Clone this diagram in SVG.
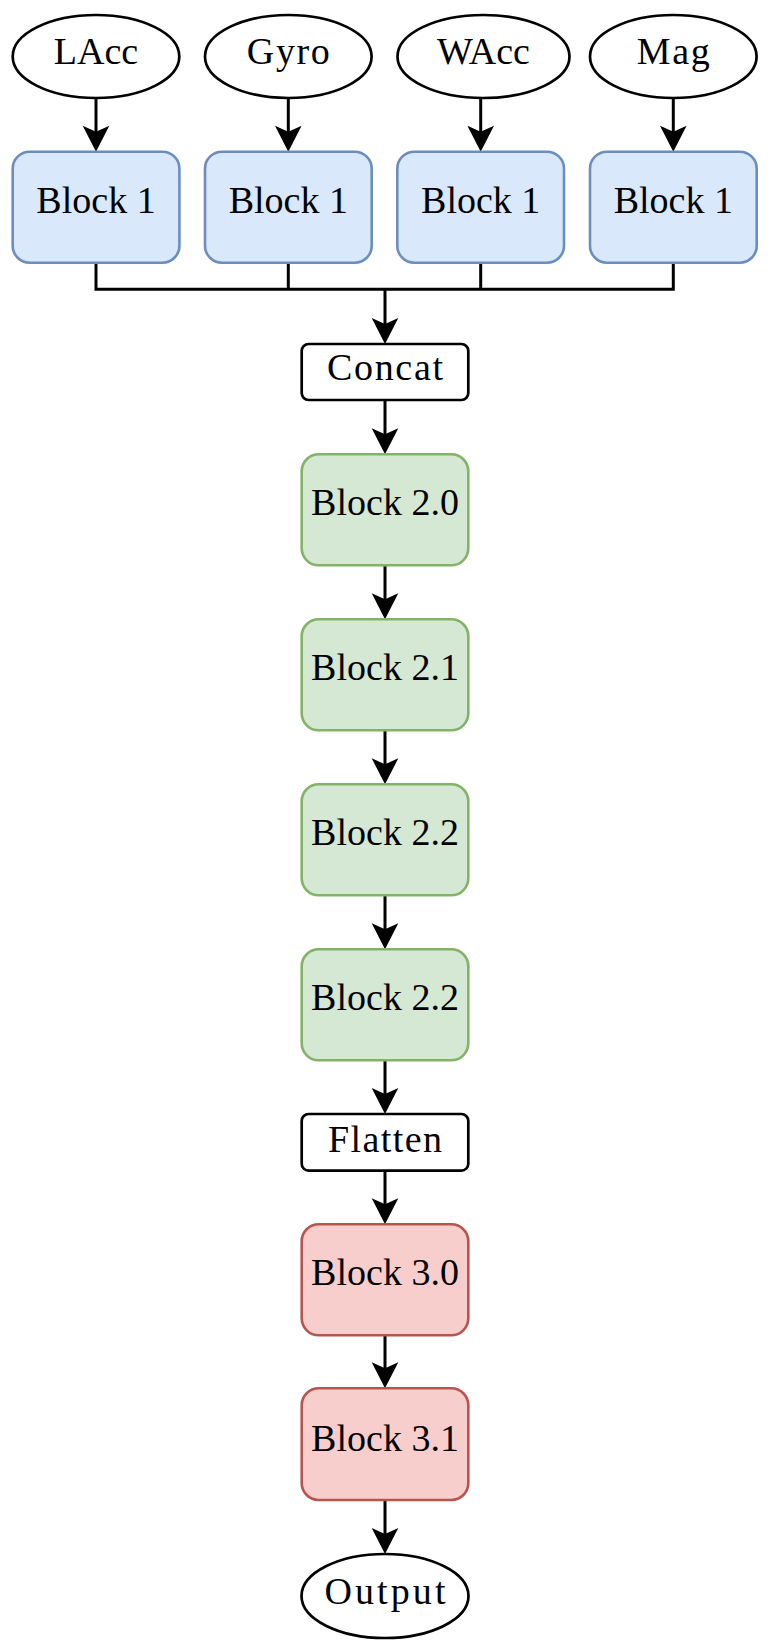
<svg xmlns="http://www.w3.org/2000/svg" width="775" height="1651" viewBox="0 0 775 1651">
<style>
.t{font-family:"Liberation Serif","Times New Roman",serif;font-size:38px;fill:#000;text-anchor:middle}
.ell{fill:#fff;stroke:#000;stroke-width:2.7}
.plain{fill:#fff;stroke:#000;stroke-width:2.7}
.blue{fill:#dae8fc;stroke:#6c8ebf;stroke-width:2.6}
.green{fill:#d5e8d4;stroke:#82b366;stroke-width:2.6}
.red{fill:#f8cecc;stroke:#b85450;stroke-width:2.6}
.c{fill:none;stroke:#000;stroke-width:3}
.a{fill:none;stroke:#000;stroke-width:3;marker-end:url(#ah)}
</style>
<defs>
<marker id="ah" markerUnits="userSpaceOnUse" orient="auto" viewBox="-27 -14 28 28" refX="-12" refY="0" markerWidth="28" markerHeight="28">
<path d="M0,0 L-26,-13.3 L-20,0 L-26,13.3 Z" fill="#000"/>
</marker>
</defs>
<rect width="775" height="1651" fill="#fff"/>
<g id="connectors">
<line class="a" x1="96" y1="98" x2="96" y2="139.7"/>
<line class="a" x1="288.3" y1="98" x2="288.3" y2="139.7"/>
<line class="a" x1="480.7" y1="98" x2="480.7" y2="139.7"/>
<line class="a" x1="673.3" y1="98" x2="673.3" y2="139.7"/>
<path class="c" d="M96,262.7 V289.3 H673.3 V262.7 M288.3,262.7 V289.3 M480.7,262.7 V289.3"/>
<line class="a" x1="385" y1="289.3" x2="385" y2="332"/>
<line class="a" x1="385" y1="400" x2="385" y2="442.3"/>
<line class="a" x1="385" y1="565.3" x2="385" y2="607.3"/>
<line class="a" x1="385" y1="730.3" x2="385" y2="772.3"/>
<line class="a" x1="385" y1="895.3" x2="385" y2="937.3"/>
<line class="a" x1="385" y1="1060.3" x2="385" y2="1102"/>
<line class="a" x1="385" y1="1170.7" x2="385" y2="1212.3"/>
<line class="a" x1="385" y1="1335.3" x2="385" y2="1376.3"/>
<line class="a" x1="385" y1="1500" x2="385" y2="1542"/>
</g>
<g id="in-lacc"><ellipse class="ell" cx="96" cy="56.5" rx="83.3" ry="41.5"/><text class="t" x="96" y="63.5">LAcc</text></g>
<g id="in-gyro"><ellipse class="ell" cx="288.3" cy="56.5" rx="83.3" ry="41.5"/><text class="t" x="288.3" y="63.5" textLength="83" lengthAdjust="spacing">Gyro</text></g>
<g id="in-wacc"><ellipse class="ell" cx="483.5" cy="56.5" rx="86" ry="41.5"/><text class="t" x="483.5" y="63.5">WAcc</text></g>
<g id="in-mag"><ellipse class="ell" cx="673.3" cy="56.5" rx="83.3" ry="41.5"/><text class="t" x="673.3" y="63.5" textLength="73" lengthAdjust="spacing">Mag</text></g>
<g id="b1-lacc"><rect class="blue" x="12.7" y="151.7" width="166.7" height="111" rx="17"/><text class="t" x="96" y="213">Block 1</text></g>
<g id="b1-gyro"><rect class="blue" x="205" y="151.7" width="166.7" height="111" rx="17"/><text class="t" x="288.3" y="213">Block 1</text></g>
<g id="b1-wacc"><rect class="blue" x="397.3" y="151.7" width="166.7" height="111" rx="17"/><text class="t" x="480.7" y="213">Block 1</text></g>
<g id="b1-mag"><rect class="blue" x="590" y="151.7" width="166.7" height="111" rx="17"/><text class="t" x="673.3" y="213">Block 1</text></g>
<g id="concat"><rect class="plain" x="301.7" y="344" width="166.6" height="56" rx="7"/><text class="t" x="385" y="379.5" textLength="116" lengthAdjust="spacing">Concat</text></g>
<g id="b20"><rect class="green" x="301.7" y="454.3" width="166.6" height="111" rx="17"/><text class="t" x="385" y="515">Block 2.0</text></g>
<g id="b21"><rect class="green" x="301.7" y="619.3" width="166.6" height="111" rx="17"/><text class="t" x="385" y="680">Block 2.1</text></g>
<g id="b22"><rect class="green" x="301.7" y="784.3" width="166.6" height="111" rx="17"/><text class="t" x="385" y="845">Block 2.2</text></g>
<g id="b22b"><rect class="green" x="301.7" y="949.3" width="166.6" height="111" rx="17"/><text class="t" x="385" y="1010">Block 2.2</text></g>
<g id="flatten"><rect class="plain" x="301.7" y="1114" width="166.6" height="56.7" rx="7"/><text class="t" x="385" y="1151.7" textLength="114" lengthAdjust="spacing">Flatten</text></g>
<g id="b30"><rect class="red" x="301.7" y="1224.3" width="166.6" height="111" rx="17"/><text class="t" x="385" y="1285">Block 3.0</text></g>
<g id="b31"><rect class="red" x="301.7" y="1388.3" width="166.6" height="111.7" rx="17"/><text class="t" x="385" y="1450.7">Block 3.1</text></g>
<g id="output"><ellipse class="ell" cx="385" cy="1596" rx="83.5" ry="42"/><text class="t" x="385" y="1604" textLength="121" lengthAdjust="spacing">Output</text></g>
</svg>
